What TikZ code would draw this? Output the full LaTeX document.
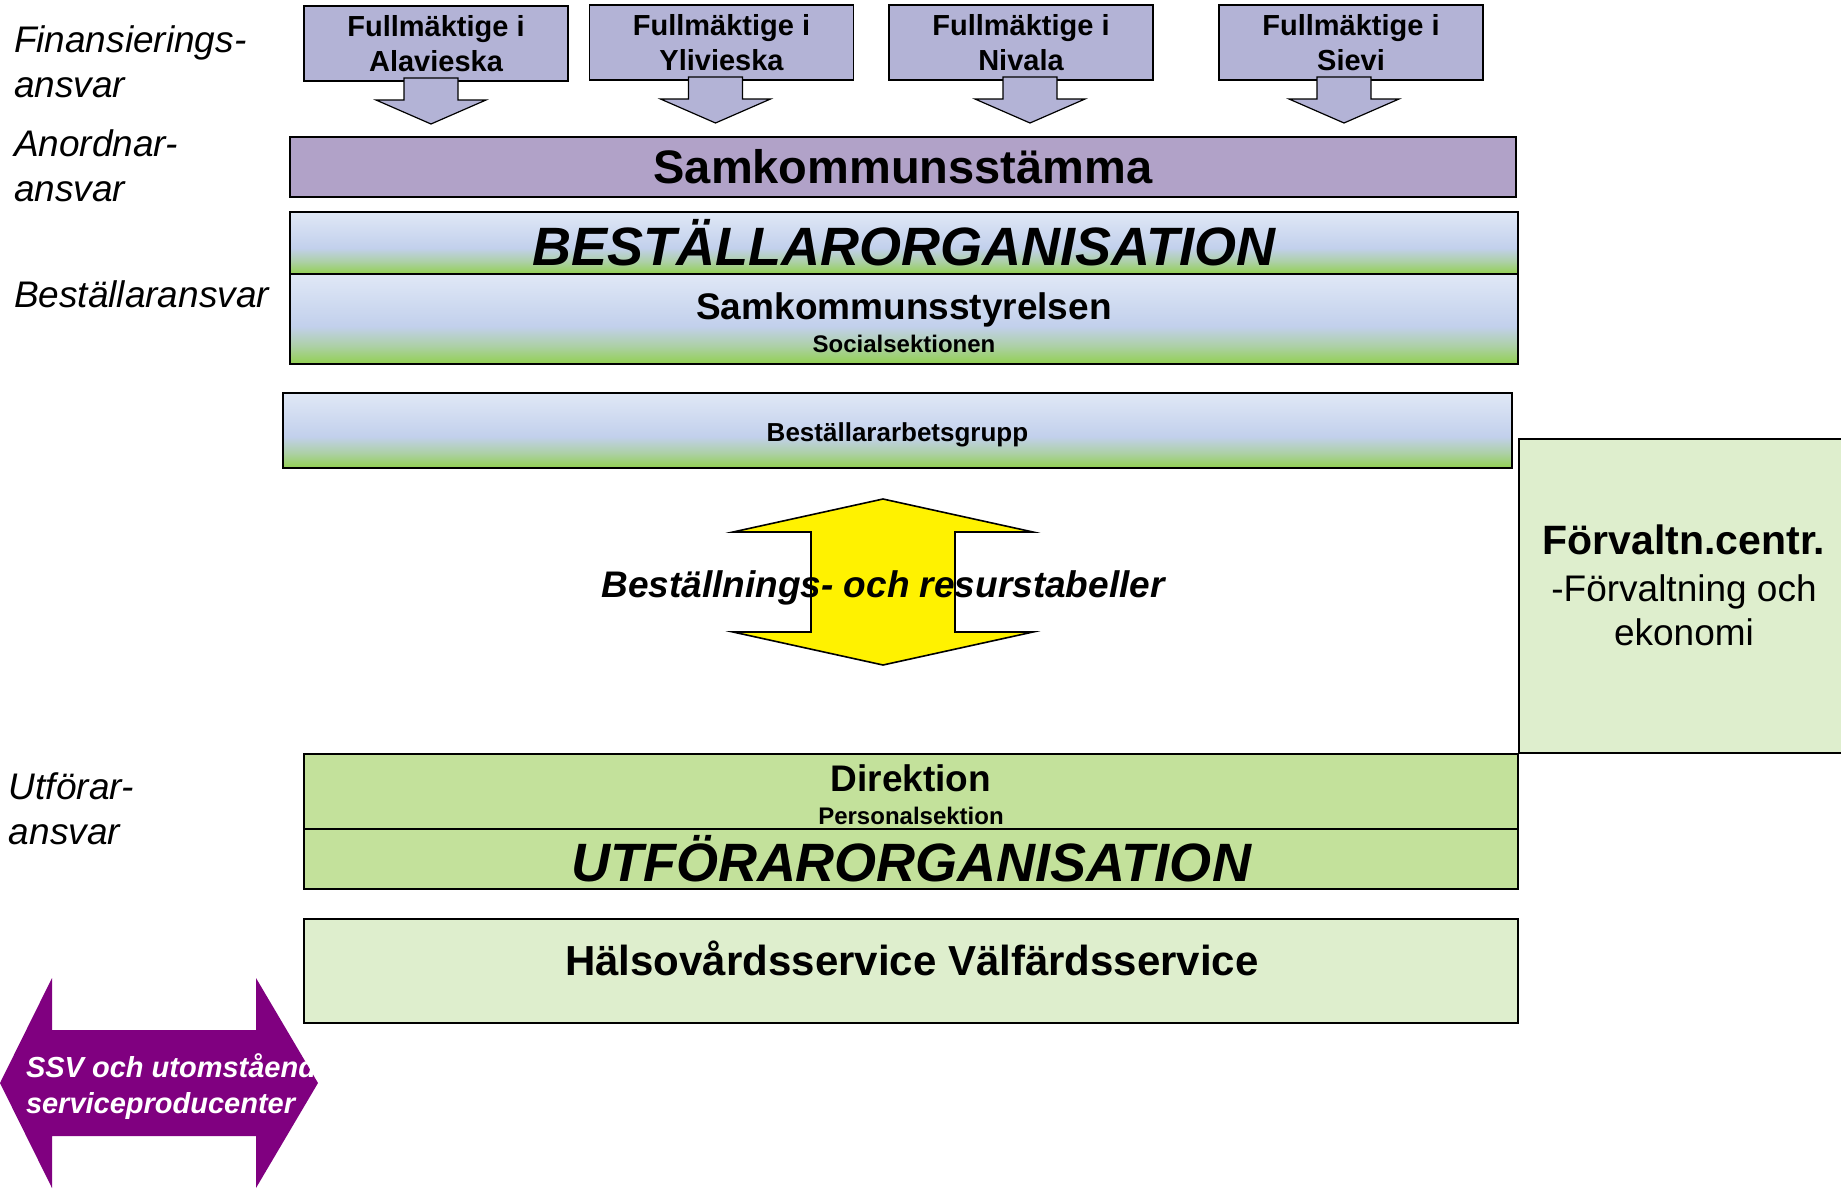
\documentclass[tikz,border=0pt]{standalone}
\usepackage{fontspec}
\setmainfont{Liberation Sans}
\usetikzlibrary{positioning}

\definecolor{fullmcol}{RGB}{179,179,214}
\definecolor{stammacol}{RGB}{177,162,200}
\definecolor{paleblue}{RGB}{224,232,246}
\definecolor{midblue}{RGB}{194,208,236}
\definecolor{grassgreen}{RGB}{146,208,80}
\definecolor{utfcol}{RGB}{195,225,155}
\definecolor{palegreen}{RGB}{222,238,205}
\definecolor{arrowpurple}{RGB}{128,0,128}

\pgfdeclareverticalshading{bestshade}{100bp}{%
  color(0bp)=(grassgreen); color(25bp)=(grassgreen);
  color(35bp)=(grassgreen!45!midblue); color(46bp)=(midblue);
  color(75bp)=(paleblue); color(100bp)=(paleblue)}

\begin{document}
\begin{tikzpicture}[x=1pt, y=-1pt,
    every node/.style = {inner sep=0pt, outer sep=0pt},
    orgbox/.style = {draw, line width=2pt, shape=rectangle},
    fullbox/.style = {orgbox, line width=1.6pt, fill=fullmcol,
      minimum width=264, minimum height=75, align=center,
      font=\fontsize{29}{35}\selectfont\bfseries},
    gradbox/.style = {orgbox, shading=bestshade, minimum width=1228, align=center},
    utfbox/.style = {orgbox, fill=utfcol, minimum width=1214, align=center},
    sidelabel/.style = {anchor=west, align=left,
      font=\fontsize{37}{45}\selectfont\itshape},
    downpil/.style = {draw, line width=1.2pt, fill=fullmcol}]
  \useasboundingbox (0,0) rectangle (1841,1189);

  % responsibility levels
  \node[sidelabel] (finlabel) at (14,62) {Finansierings-\\ansvar};
  \node[sidelabel] (anolabel) at (14,166) {Anordnar-\\ansvar};
  \node[sidelabel] (bestlabel) at (14,294) {Beställaransvar};
  \node[sidelabel] (utflabel) at (9,809) {Utförar-\\ansvar};

  % councils
  \node[fullbox] (fa) at (436,43.5) {Fullmäktige i\\Alavieska};
  \node[fullbox] (fy) at (721.5,42.5) {Fullmäktige i\\Ylivieska};
  \node[fullbox] (fn) at (1021,42.5) {Fullmäktige i\\Nivala};
  \node[fullbox] (fs) at (1351,42.5) {Fullmäktige i\\Sievi};
  \foreach \b/\dx in {fa/-5, fy/-6, fn/9, fs/-7}
    \draw[downpil, shift={(\b.south)}, xshift=\dx]
      (-27,-3) -- (27,-3) -- (27,19) -- (55,19) -- (0,43)
      -- (-55,19) -- (-27,19) -- cycle;

  \node[orgbox, fill=stammacol, minimum width=1226, minimum height=60,
    font=\fontsize{47}{50}\selectfont\bfseries] (stamma) at (903,167)
    {Samkommunsstämma};

  % orderer side
  \node[gradbox, minimum height=62, font=\fontsize{54}{58}\selectfont\bfseries\itshape]
    (bestorg) at (904,243) {BESTÄLLARORGANISATION};
  \node[gradbox, minimum height=90, font=\fontsize{37}{33}\selectfont\bfseries]
    (styrelsen) at (904,319)
    {\rule{0pt}{35pt}Samkommunsstyrelsen\\{\fontsize{24}{28}\selectfont Socialsektionen}};
  \node[gradbox, minimum width=1229, minimum height=75, text height=21.6pt,
    text depth=0pt, font=\fontsize{26}{30}\selectfont\bfseries] (arbgrupp)
    at (897.5,430.5) {Beställararbetsgrupp};

  % administration centre
  \node[fill=palegreen, minimum width=322, minimum height=314] (fc) at (1680,596) {};
  \draw[line width=2pt] (fc.north east) -- (fc.north west) -- (fc.south west)
    -- (fc.south east);
  \node[align=center, font=\fontsize{37}{44}\selectfont] (fctext) at (1684,585)
    {{\fontsize{41}{47}\selectfont\bfseries Förvaltn.centr.}\\[3pt]
     -Förvaltning och\\ekonomi};

  % order and resource tables
  \coordinate (yc) at (883,582);
  \draw[line width=1.6pt, fill=yellow, shift={(yc)}]
    (0,-83) -- (150,-50) -- (72,-50) -- (72,50) -- (150,50) -- (0,83)
    -- (-150,50) -- (-72,50) -- (-72,-50) -- (-150,-50) -- cycle;
  \node[font=\fontsize{37}{44}\selectfont\bfseries\itshape] (tabeller)
    at ([yshift=-6pt]yc) {Beställnings- och resurstabeller};

  % producer side
  \node[utfbox, minimum height=75, font=\fontsize{37}{33}\selectfont\bfseries]
    (direktion) at (911,791.5)
    {\rule{0pt}{33pt}Direktion\\{\fontsize{24}{28}\selectfont Personalsektion}};
  \node[utfbox, minimum height=60, font=\fontsize{54}{58}\selectfont\bfseries\itshape]
    (utforg) at (911,859) {UTFÖRARORGANISATION};
  \node[orgbox, fill=palegreen, minimum width=1214, minimum height=104]
    (halso) at (911,971) {};
  \node[font=\fontsize{42}{48}\selectfont\bfseries] (halsotext) at (912,958)
    {Hälsovårdsservice Välfärdsservice};

  % outside producers
  \coordinate (pc) at (158,1083);
  \fill[arrowpurple, shift={(pc)}]
    (-158,0) -- (-106,-105) -- (-106,-53) -- (98,-53) -- (98,-105) -- (160,0)
    -- (98,105) -- (98,53) -- (-106,53) -- (-106,105) -- cycle;
  \node[anchor=west, align=left, text=white,
    font=\fontsize{29}{36}\selectfont\bfseries\itshape] (ssv) at (26,1087)
    {SSV och utomstående\\serviceproducenter};
\end{tikzpicture}
\end{document}
